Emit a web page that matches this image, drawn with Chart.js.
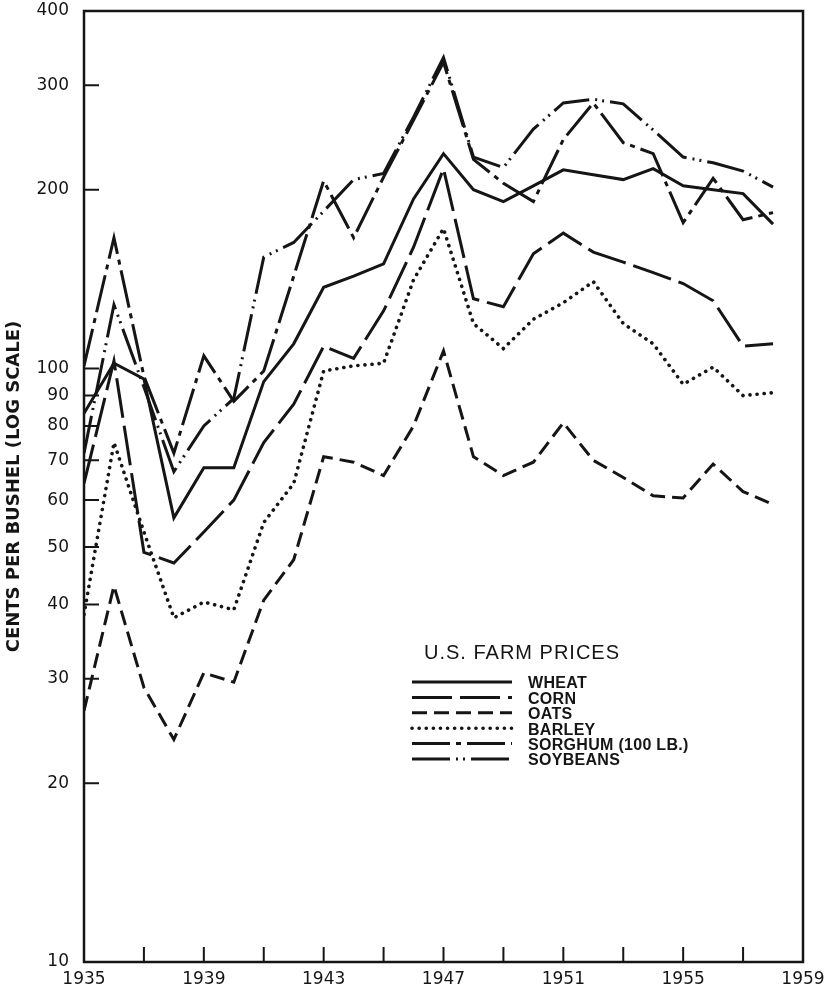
<!DOCTYPE html>
<html>
<head>
<meta charset="utf-8">
<title>U.S. Farm Prices</title>
<script src="https://cdn.jsdelivr.net/npm/chart.js@4.4.1/dist/chart.umd.min.js"></script>
<style>
  html, body { margin: 0; padding: 0; background: #fff; }
  #wrap { width: 836px; height: 986px; }
</style>
</head>
<body>
<div id="wrap"><canvas id="price-chart" width="836" height="986"></canvas></div>
<script>
// cents per bushel
const years = [1935, 1936, 1937, 1938, 1939, 1940, 1941, 1942, 1943, 1944, 1945, 1946,
               1947, 1948, 1949, 1950, 1951, 1952, 1953, 1954, 1955, 1956, 1957, 1958];
const wheat    = [84, 102, 96, 56, 68, 68, 95, 110, 137, 143, 150, 193, 230, 200, 191, 203, 216, 212, 208, 217, 203, 200, 197, 175];
const corn     = [64, 103, 49, 47, 53, 60, 75, 87, 109, 104, 125, 160, 217, 131, 127, 156, 169, 157, 151, 145, 139, 130, 109, 110];
const oats     = [26.5, 43, 29, 23.7, 30.7, 29.6, 40.7, 47.6, 71, 69.5, 66, 80, 107, 71, 66, 69.5, 81, 70, 65.5, 61, 60.5, 69, 62, 59];
const barley   = [38.5, 75, 53, 38, 40.4, 39.2, 55, 64, 99, 101, 102, 141, 172, 119, 108, 121, 129, 140, 119, 110, 94, 100.5, 90, 91];
const sorghum  = [101, 166, 97, 72, 105, 88, 99, 143, 207, 166, 210, 262, 328, 225, 205, 191, 243, 280, 240, 230, 176, 209, 178, 183];
const soybeans = [72, 128, 93, 67, 80, 89, 154, 163, 184, 208, 213, 265, 334, 227, 218, 253, 280, 284, 279, 252, 227, 222, 215, 202];

const seriesNames = ["WHEAT", "CORN", "OATS", "BARLEY", "SORGHUM (100 LB.)", "SOYBEANS"];
const yTickValues = [10, 20, 30, 40, 50, 60, 70, 80, 90, 100, 200, 300, 400];
const xTickYears = [1935, 1937, 1939, 1941, 1943, 1945, 1947, 1949, 1951, 1953, 1955, 1957, 1959];
const xLabelYears = [1935, 1939, 1943, 1947, 1951, 1955, 1959];

const ink = "#151515";
const tickFont = { family: "DejaVu Sans", size: 17 };

// line looks, same order as seriesNames
const lineStyles = [
    { dash: [], width: 3, cap: "butt" },
    { dash: [40, 8], width: 3, cap: "butt" },
    { dash: [15, 7], width: 3, cap: "butt" },
    { dash: [0.1, 7], width: 3.6, cap: "round" },
    { dash: [38, 6, 5, 6], width: 3, cap: "butt" },
    { dash: [38, 6, 2, 5, 2, 6], width: 3, cap: "butt" }
];

const allSeries = [wheat, corn, oats, barley, sorghum, soybeans];
const datasets = allSeries.map((vals, i) => ({
    label: seriesNames[i],
    data: vals.map((v, j) => ({ x: years[j], y: v })),
    borderColor: ink,
    backgroundColor: ink,
    borderWidth: lineStyles[i].width,
    borderDash: lineStyles[i].dash,
    borderCapStyle: lineStyles[i].cap,
    borderJoinStyle: "miter",
    pointRadius: 0,
    tension: 0,
    fill: false
}));

// frame + inward tick marks
const framePlugin = {
    id: "frame",
    afterDatasetsDraw(chart) {
        const { ctx, chartArea: a, scales } = chart;
        ctx.save();
        ctx.strokeStyle = ink;
        ctx.setLineDash([]);
        ctx.lineWidth = 2;
        ctx.beginPath();
        yTickValues.slice(1, -1).forEach(v => {
            const py = scales.y.getPixelForValue(v);
            ctx.moveTo(a.left, py);
            ctx.lineTo(a.left + 15, py);
        });
        xTickYears.slice(1, -1).forEach(v => {
            const px = scales.x.getPixelForValue(v);
            ctx.moveTo(px, a.bottom);
            ctx.lineTo(px, a.bottom - 15);
        });
        ctx.stroke();
        ctx.lineWidth = 2.5;
        ctx.strokeRect(a.left, a.top, a.right - a.left, a.bottom - a.top);
        ctx.restore();
    }
};

// legend block inside the plot
const legendPlugin = {
    id: "farmLegend",
    afterDraw(chart) {
        const ctx = chart.ctx;
        ctx.save();
        ctx.fillStyle = ink;
        ctx.strokeStyle = ink;
        ctx.textBaseline = "middle";
        ctx.textAlign = "left";
        ctx.font = "20px 'Liberation Sans'";
        ctx.letterSpacing = "1px";
        ctx.fillText("U.S. FARM PRICES", 424, 653);
        ctx.letterSpacing = "0.3px";
        ctx.font = "bold 16px 'Liberation Sans'";
        chart.data.datasets.forEach((ds, i) => {
            const y = 684 + i * 15.4;
            ctx.lineWidth = ds.borderWidth;
            ctx.lineCap = ds.borderCapStyle;
            ctx.setLineDash(ds.borderDash);
            ctx.beginPath();
            ctx.moveTo(412, y - 2);
            ctx.lineTo(512, y - 2);
            ctx.stroke();
            ctx.fillText(ds.label, 528, y);
        });
        ctx.restore();
    }
};

const chart = new Chart(document.getElementById("price-chart"), {
    type: "line",
    data: { datasets },
    options: {
        responsive: false,
        animation: false,
        layout: { padding: { top: 11, right: 33, left: 0, bottom: 0 } },
        plugins: { legend: { display: false }, tooltip: { enabled: false } },
        scales: {
            x: {
                type: "linear",
                min: 1935,
                max: 1959,
                grid: { display: false, drawTicks: false },
                border: { display: false },
                afterBuildTicks: s => { s.ticks = xTickYears.map(v => ({ value: v })); },
                afterFit: s => { s.height = 24; s.paddingLeft = 0; s.paddingRight = 0; },
                ticks: {
                    autoSkip: false,
                    maxRotation: 0,
                    padding: 7,
                    color: ink,
                    font: tickFont,
                    callback: v => xLabelYears.includes(v) ? String(v) : ""
                }
            },
            y: {
                type: "logarithmic",
                min: 10,
                max: 400,
                grid: { display: false, drawTicks: false },
                border: { display: false },
                afterBuildTicks: s => { s.ticks = yTickValues.map(v => ({ value: v })); },
                afterFit: s => { s.width = 84; s.paddingTop = 0; s.paddingBottom = 0; },
                ticks: {
                    autoSkip: false,
                    padding: 15,
                    color: ink,
                    font: tickFont,
                    callback: v => String(v)
                },
                title: {
                    display: true,
                    text: "CENTS PER BUSHEL (LOG SCALE)",
                    color: ink,
                    font: { family: "DejaVu Sans", size: 18, weight: "bold" },
                    padding: { top: 4, bottom: 0 }
                }
            }
        }
    },
    plugins: [framePlugin, legendPlugin]
});
</script>
</body>
</html>
